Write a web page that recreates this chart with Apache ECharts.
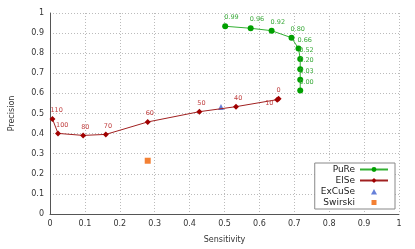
<!DOCTYPE html>
<html><head><meta charset="utf-8">
<script src="https://cdn.jsdelivr.net/npm/echarts@6/dist/echarts.min.js"></script>
<style>html,body{margin:0;padding:0;background:#fff}#c{width:415px;height:249px}</style>
</head><body><div id="c"></div>
<script>
const xTicks = [0,0.1,0.2,0.3,0.4,0.5,0.6,0.7,0.8,0.9,1];
const yTicks = [0,0.1,0.2,0.3,0.4,0.5,0.6,0.7,0.8,0.9,1];
const pureSens = [0.502,0.575,0.635,0.692,0.712,0.717,0.717,0.717,0.717];
const purePrec = [0.934,0.924,0.912,0.877,0.824,0.771,0.720,0.668,0.615];
const pureLabels = ['0.99','0.96','0.92','0.80','0.66','0.52','0.20','0.03','0.00'];
const elseSens = [0.007,0.023,0.095,0.160,0.280,0.428,0.533,0.651,0.655];
const elsePrec = [0.473,0.401,0.391,0.396,0.458,0.509,0.534,0.569,0.573];
const elseLabels = ['110','100','80','70','60','50','40','10','0'];
const excuse = [[0.490,0.532]];
const swirski = [[0.280,0.265]];

const font = 'DejaVu Sans';
const pureData = pureSens.map((x,i)=>({value:[x,purePrec[i]], label:{formatter:pureLabels[i]}}));
const elseData = elseSens.map((x,i)=>{
  const d = {value:[x,elsePrec[i]], label:{formatter:elseLabels[i]}};
  if (elseLabels[i]==='10') d.label.position=[-9,3];
  return d;
});
const triIcon = 'path://M0,0M28,6M11,6L14,0.5L17,6Z';
const sqIcon = 'path://M0,0M28,6M11.5,0.5L16.5,0.5L16.5,5.5L11.5,5.5Z';
const chart = echarts.init(document.getElementById('c'));
chart.setOption({
  animation:false,
  grid:{left:50,right:16,top:13,bottom:35},
  xAxis:{type:'value',min:0,max:1,interval:0.1,name:'Sensitivity',nameLocation:'middle',nameGap:22,
    nameTextStyle:{fontFamily:font,fontSize:8,color:'#333'},
    axisLine:{lineStyle:{color:'#555'}},axisTick:{show:false},
    axisLabel:{fontFamily:font,fontSize:8,color:'#333',margin:6,formatter:v=>String(Math.round(v*10)/10)},
    splitLine:{lineStyle:{type:[1,2],color:'#bbb'}}},
  yAxis:{type:'value',min:0,max:1,interval:0.1,name:'Precision',nameLocation:'middle',nameGap:34,
    nameTextStyle:{fontFamily:font,fontSize:8,color:'#333'},
    axisLine:{show:true,lineStyle:{color:'#555'}},axisTick:{show:false},
    axisLabel:{fontFamily:font,fontSize:8,color:'#333',margin:6,formatter:v=>String(Math.round(v*10)/10)},
    splitLine:{lineStyle:{type:[1,2],color:'#bbb'}}},
  legend:{orient:'vertical',right:20,top:163,align:'right',itemGap:2,itemWidth:28,itemHeight:6,
    borderColor:'#888',borderWidth:1,borderRadius:0,backgroundColor:'#fff',padding:[2,6,2,6],
    textStyle:{fontFamily:font,fontSize:9,color:'#222'},
    data:['PuRe','ElSe',{name:'ExCuSe',icon:triIcon},{name:'Swirski',icon:sqIcon}]},
  series:[
    {name:'PuRe',type:'line',data:pureData,symbol:'circle',symbolSize:6,
      itemStyle:{color:'#00a000'},lineStyle:{color:'#33b033',width:1},
      label:{show:true,position:[2,-9],fontFamily:font,fontSize:6.5,color:'#3aaa3a'}},
    {name:'ElSe',type:'line',data:elseData,symbol:'diamond',symbolSize:6,
      itemStyle:{color:'#a00000'},lineStyle:{color:'#a02020',width:1},
      label:{show:true,position:[1,-9],fontFamily:font,fontSize:6.5,color:'#c04040'}},
    {name:'ExCuSe',type:'scatter',data:excuse,symbol:'triangle',symbolSize:6,itemStyle:{color:'#4060d0'}},
    {name:'Swirski',type:'scatter',data:swirski,symbol:'rect',symbolSize:6,itemStyle:{color:'#f06000'}}
  ]
});
</script></body></html>
